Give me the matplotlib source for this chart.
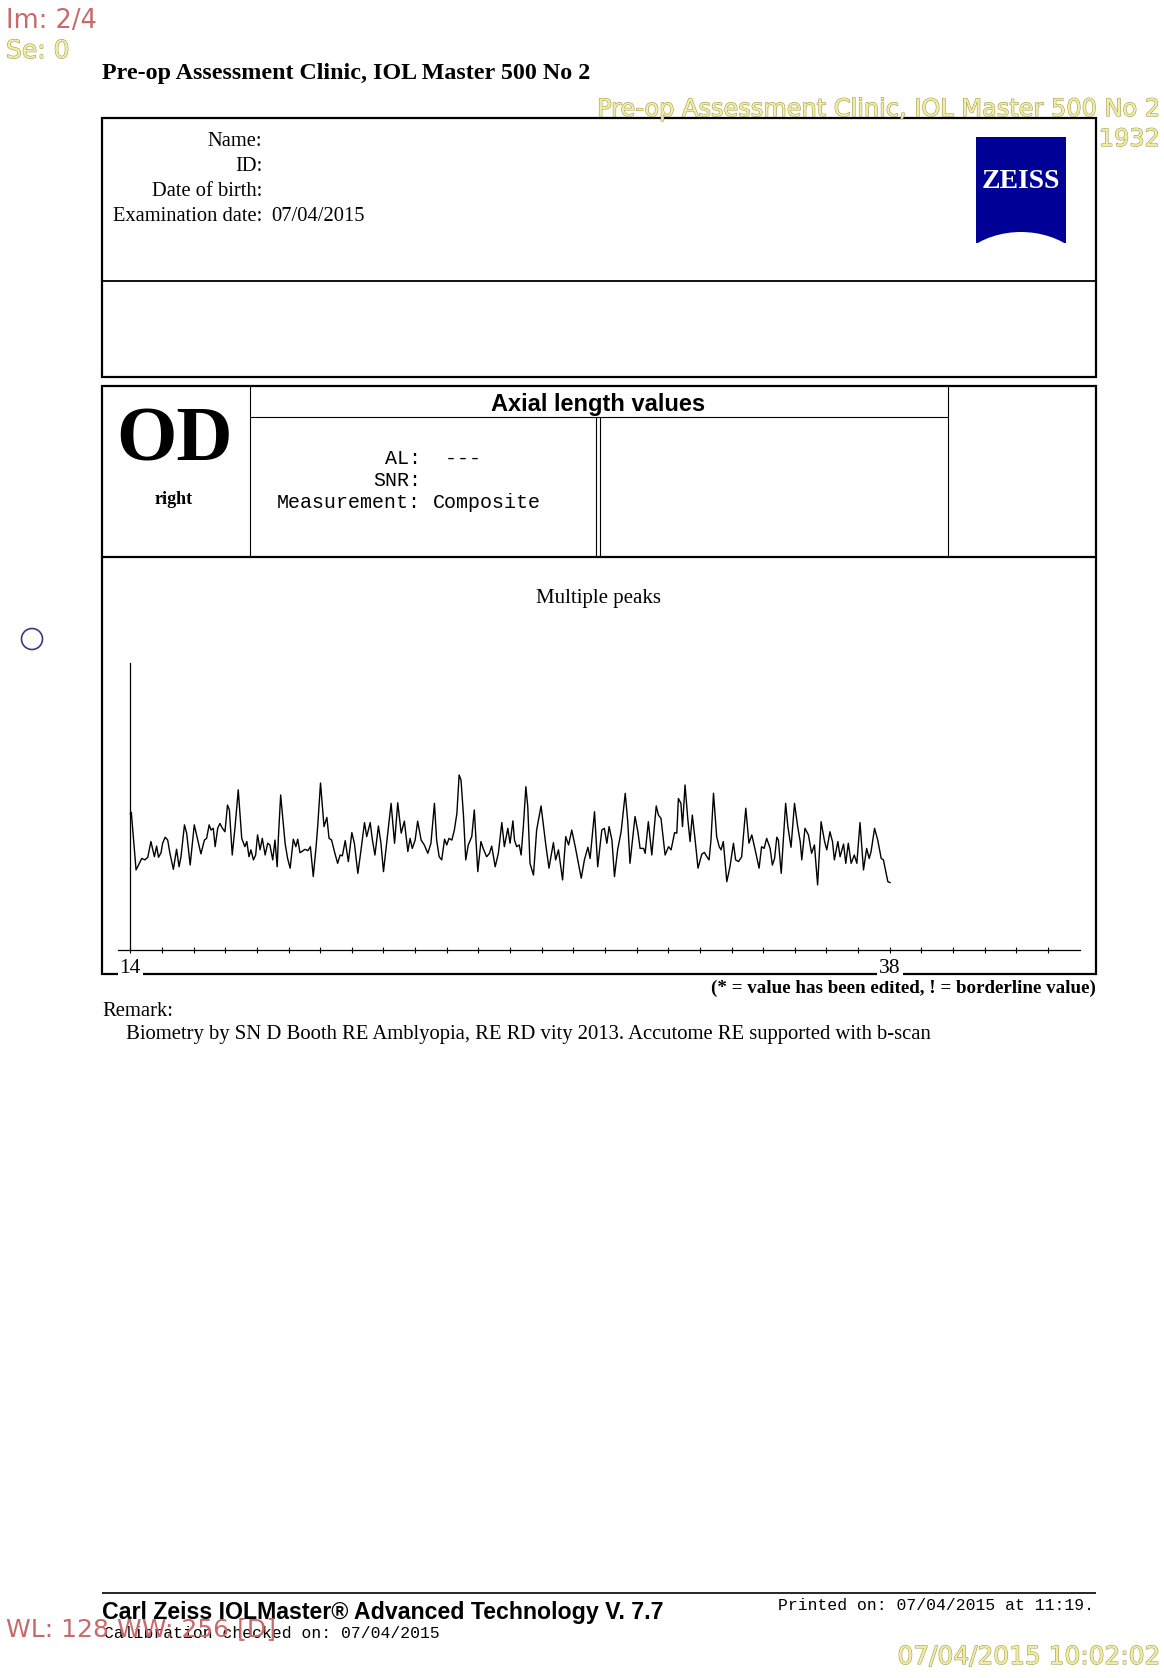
import matplotlib.pyplot as plt
import matplotlib.patheffects as pe
from matplotlib.patches import Rectangle, Ellipse, Circle

# Echo trace: axial position (mm) and relative amplitude
axial_mm = [
    14.00, 14.03, 14.18, 14.36, 14.46, 14.55, 14.65, 14.76, 14.83, 14.89, 14.97, 15.02, 15.10, 15.18,
    15.25, 15.36, 15.46, 15.54, 15.60, 15.71, 15.78, 15.89, 16.02, 16.13, 16.23, 16.34, 16.41, 16.49,
    16.55, 16.62, 16.68, 16.76, 16.83, 16.91, 16.99, 17.07, 17.13, 17.22, 17.31, 17.41, 17.52, 17.62,
    17.68, 17.75, 17.81, 17.89, 17.96, 18.02, 18.10, 18.17, 18.26, 18.34, 18.41, 18.50, 18.57, 18.64,
    18.68, 18.75, 18.84, 18.89, 18.97, 19.05, 19.15, 19.23, 19.29, 19.36, 19.42, 19.52, 19.61, 19.69,
    19.78, 19.87, 19.92, 20.01, 20.07, 20.12, 20.21, 20.28, 20.36, 20.45, 20.55, 20.63, 20.70, 20.79,
    20.89, 21.00, 21.08, 21.19, 21.29, 21.40, 21.47, 21.58, 21.65, 21.73, 21.84, 21.92, 22.00, 22.10,
    22.24, 22.35, 22.45, 22.56, 22.66, 22.77, 22.84, 22.91, 23.00, 23.08, 23.19, 23.29, 23.40, 23.50,
    23.61, 23.68, 23.76, 23.84, 23.93, 24.00, 24.07, 24.16, 24.24, 24.32, 24.39, 24.45, 24.53, 24.60,
    24.68, 24.79, 24.87, 24.98, 25.08, 25.16, 25.26, 25.35, 25.42, 25.53, 25.63, 25.74, 25.82, 25.93,
    26.00, 26.09, 26.14, 26.21, 26.29, 26.35, 26.42, 26.50, 26.56, 26.63, 26.74, 26.84, 26.98, 27.06,
    27.13, 27.23, 27.37, 27.44, 27.53, 27.66, 27.76, 27.85, 27.95, 28.06, 28.14, 28.25, 28.35, 28.46,
    28.53, 28.67, 28.77, 28.90, 28.98, 29.06, 29.13, 29.22, 29.30, 29.40, 29.51, 29.64, 29.72, 29.79,
    29.95, 30.04, 30.11, 30.22, 30.27, 30.37, 30.48, 30.62, 30.69, 30.77, 30.90, 31.01, 31.09, 31.20,
    31.27, 31.32, 31.40, 31.45, 31.53, 31.62, 31.69, 31.76, 31.85, 31.94, 32.06, 32.14, 32.22, 32.29,
    32.35, 32.43, 32.53, 32.61, 32.67, 32.74, 32.85, 32.95, 33.06, 33.13, 33.22, 33.32, 33.45, 33.55,
    33.64, 33.77, 33.87, 33.95, 34.03, 34.11, 34.22, 34.29, 34.36, 34.43, 34.48, 34.57, 34.64, 34.71,
    34.78, 34.88, 34.99, 35.09, 35.17, 35.22, 35.32, 35.43, 35.53, 35.62, 35.72, 35.83, 35.94, 36.01,
    36.11, 36.19, 36.25, 36.36, 36.43, 36.54, 36.61, 36.69, 36.78, 36.88, 36.96, 37.06, 37.17, 37.27,
    37.35, 37.41, 37.52, 37.62, 37.73, 37.80, 37.94, 38.01,
]
amplitude = [
    47.5, 48.0, 27.9, 31.9, 31.4, 32.3, 37.8, 32.5, 36.2, 32.3, 33.9, 37.2, 39.3, 38.3,
    33.7, 28.1, 35.1, 29.0, 32.5, 43.6, 40.7, 29.6, 43.6, 38.3, 33.5, 38.3, 38.9, 43.6,
    41.8, 42.4, 36.0, 42.4, 44.1, 42.4, 41.2, 50.5, 48.8, 33.1, 43.0, 55.8, 38.9, 36.0,
    37.8, 32.5, 34.9, 31.4, 33.1, 40.1, 34.9, 38.9, 33.1, 37.2, 36.6, 31.4, 38.3, 29.0,
    39.5, 54.0, 43.0, 37.2, 31.9, 28.5, 38.6, 36.0, 38.6, 33.9, 34.3, 35.1, 34.6, 36.0,
    25.6, 36.0, 43.0, 58.2, 50.0, 43.0, 46.2, 38.9, 38.3, 34.3, 30.2, 33.1, 32.8, 38.1,
    30.8, 40.9, 37.2, 26.7, 34.9, 44.4, 39.5, 44.4, 38.3, 33.1, 43.2, 37.2, 27.3, 37.2,
    51.1, 37.2, 51.3, 40.7, 44.9, 34.3, 38.9, 35.4, 38.3, 44.9, 38.3, 36.6, 33.7, 37.2,
    51.1, 38.3, 32.5, 31.4, 38.6, 36.6, 38.9, 38.3, 41.8, 47.6, 61.0, 59.2, 46.5, 31.4,
    36.6, 39.5, 48.8, 27.3, 37.8, 35.1, 32.5, 33.7, 36.2, 29.0, 33.7, 44.4, 36.0, 42.4,
    37.2, 45.0, 38.3, 36.0, 36.6, 33.1, 43.0, 56.9, 49.9, 30.2, 26.1, 41.8, 50.2, 43.0,
    36.6, 28.5, 37.4, 31.4, 34.9, 24.4, 39.5, 36.6, 41.8, 36.0, 31.4, 25.0, 31.4, 35.8,
    31.9, 48.2, 29.0, 41.8, 42.4, 37.2, 43.0, 38.3, 25.6, 34.9, 41.2, 54.6, 44.7, 30.2,
    46.5, 41.2, 35.4, 35.4, 33.7, 44.7, 33.1, 50.2, 47.0, 45.9, 33.1, 36.0, 34.9, 40.9,
    40.7, 52.8, 51.1, 43.0, 57.5, 45.3, 37.8, 47.0, 38.3, 28.5, 33.4, 34.0, 32.5, 31.4,
    38.3, 54.6, 39.5, 36.0, 34.9, 37.8, 23.8, 29.0, 37.2, 31.4, 30.8, 32.5, 49.4, 37.2,
    40.1, 33.7, 28.5, 36.0, 35.4, 38.9, 35.4, 29.6, 31.9, 39.3, 38.3, 26.7, 38.9, 51.1,
    43.0, 35.8, 51.1, 43.0, 37.8, 31.4, 42.4, 40.1, 33.7, 36.6, 22.7, 44.7, 37.8, 34.9,
    41.2, 37.8, 31.4, 37.8, 32.5, 36.9, 30.2, 37.2, 30.2, 33.1, 30.2, 44.4, 27.9, 35.4,
    31.9, 34.3, 42.4, 38.3, 31.9, 31.4, 23.8, 23.5,
]

tick_mm = list(range(14, 44))
labelled_mm = [14, 38]

header_fields = ['Name:', 'ID:', 'Date of birth:', 'Examination date:']
header_values = ['', '', '', '07/04/2015']
al_fields = ['AL:', 'SNR:', 'Measurement:']
al_values = [' ---', '', 'Composite']

SERIF = 'Liberation Serif'
SANS = 'Liberation Sans'
MONO = 'Liberation Mono'
OVER = 'DejaVu Sans'

RED = '#c96a6a'
YELLOW = '#f2eda0'
yellow_fx = [pe.withStroke(linewidth=0.8, foreground='#a39a55')]

fig = plt.figure(figsize=(11.64, 16.78), dpi=100)

# page layer in pixel coordinates (y down)
page = fig.add_axes([0, 0, 1, 1])
page.set_xlim(0, 1164)
page.set_ylim(1678, 0)
page.axis('off')


def line(xs, ys, lw=0.8):
    page.plot(xs, ys, color='black', lw=lw, solid_capstyle='butt')


# viewer overlay text
page.text(6, 21, 'Im: 2/4', family=OVER, fontsize=18.5, color=RED, va='center')
page.text(6, 51, 'Se: 0', family=OVER, fontsize=18, color=YELLOW, va='center', path_effects=yellow_fx)

# title
page.text(102, 74, 'Pre-op Assessment Clinic, IOL Master 500 No 2', family=SERIF,
          fontweight='bold', fontsize=17.3, va='center')

# patient box
page.add_patch(Rectangle((102, 118), 994, 259, fill=False, lw=1.6, ec='black'))
line([102, 1096], [281, 281], lw=1.3)
for i, (f, v) in enumerate(zip(header_fields, header_values)):
    y = 141 + i * 25.3
    page.text(262, y, f, family=SERIF, fontsize=14.8, ha='right', va='center')
    page.text(271, y, v, family=SERIF, fontsize=14.8, ha='left', va='center')

# ZEISS logo
logo = Rectangle((976, 137), 90, 106, fc='#000096', ec='none')
page.add_patch(logo)
arc = Ellipse((1021, 292), 150, 120, fc='white', ec='none')
page.add_patch(arc)
arc.set_clip_path(logo)
page.text(1021, 182, 'ZEISS', family=SERIF, fontweight='bold', fontsize=20,
          color='white', ha='center', va='center')

page.text(1160, 109, 'Pre-op Assessment Clinic, IOL Master 500 No 2', family=OVER, fontsize=17.3,
          color=YELLOW, ha='right', va='center', path_effects=yellow_fx, zorder=5)
page.text(1160, 139, '1932', family=OVER, fontsize=17.3, color=YELLOW, ha='right', va='center',
          path_effects=yellow_fx, zorder=5)

# measurement box
page.add_patch(Rectangle((102, 386), 994, 588, fill=False, lw=1.6, ec='black'))
line([250, 250], [386, 557])
line([102, 1096], [557, 557], lw=1.6)
line([250, 948], [417, 417])
line([948, 948], [386, 557])
line([596, 596], [417, 557])
line([600, 600], [417, 557])

page.text(174, 442, 'OD', family=SERIF, fontweight='bold', fontsize=56, ha='center', va='center')
page.text(174, 499, 'right', family=SERIF, fontweight='bold', fontsize=13, ha='center', va='center')
page.text(598, 405, 'Axial length values', family=SANS, fontweight='bold', fontsize=17,
          ha='center', va='center')
for i, (f, v) in enumerate(zip(al_fields, al_values)):
    y = 459 + i * 22
    page.text(421, y, f, family=MONO, fontsize=14.4, ha='right', va='center')
    page.text(433, y, v, family=MONO, fontsize=14.4, ha='left', va='center')

page.text(599, 598, 'Multiple peaks', family=SERIF, fontsize=15, ha='center', va='center')

# marker circle at the left margin
page.add_patch(Circle((32, 639), 10.5, fill=False, ec='#3a3a8c', lw=1.2))

page.text(1096, 988, '(* = value has been edited, ! = borderline value)', family=SERIF,
          fontweight='bold', fontsize=13.7, ha='right', va='center')
page.text(102, 1011, 'Remark:', family=SERIF, fontsize=14.9, va='center')
page.text(126, 1035, 'Biometry by SN D Booth RE Amblyopia, RE RD vity 2013. Accutome RE supported with b-scan',
          family=SERIF, fontsize=14.9, va='center')

# footer
line([102, 1096], [1593, 1593], lw=1.2)
page.text(102, 1613, 'Carl Zeiss IOLMaster\u00ae Advanced Technology V. 7.7', family=SANS,
          fontweight='bold', fontsize=16.7, va='center')
page.text(778, 1606, 'Printed on: 07/04/2015 at 11:19.', family=MONO, fontsize=11.8, va='center')
page.text(104, 1634, 'Calibration checked on: 07/04/2015', family=MONO, fontsize=11.8, va='center')
page.text(6, 1629, 'WL: 128 WW: 256 [D]', family=OVER, fontsize=18, color=RED, va='center', zorder=5)
page.text(1160, 1657, '07/04/2015 10:02:02', family=OVER, fontsize=17.9, color=YELLOW, ha='right',
          va='center', path_effects=yellow_fx)

# A-scan plot
ax = fig.add_axes([117.7 / 1164, (1678 - 950) / 1678, 961.9 / 1164, 287 / 1678])
ax.set_facecolor('none')
ax.plot(axial_mm, amplitude, color='black', lw=1.0)
ax.set_xlim(13.6, 44.0)
ax.set_ylim(0, 100)
ax.spines['top'].set_visible(False)
ax.spines['right'].set_visible(False)
ax.spines['left'].set_position(('data', 14))
ax.spines['left'].set_linewidth(0.9)
ax.spines['bottom'].set_linewidth(0.9)
ax.set_yticks([])
ax.set_xticks(tick_mm)
ax.set_xticklabels([str(t) if t in labelled_mm else '' for t in tick_mm], family=SERIF, fontsize=15.5)
ax.tick_params(axis='x', direction='inout', length=4.5, width=0.8, pad=4.5)
for lbl in ax.get_xticklabels():
    lbl.set_bbox(dict(facecolor='white', edgecolor='none', pad=1.5))

fig.savefig('out.png', dpi=100, facecolor='white')
